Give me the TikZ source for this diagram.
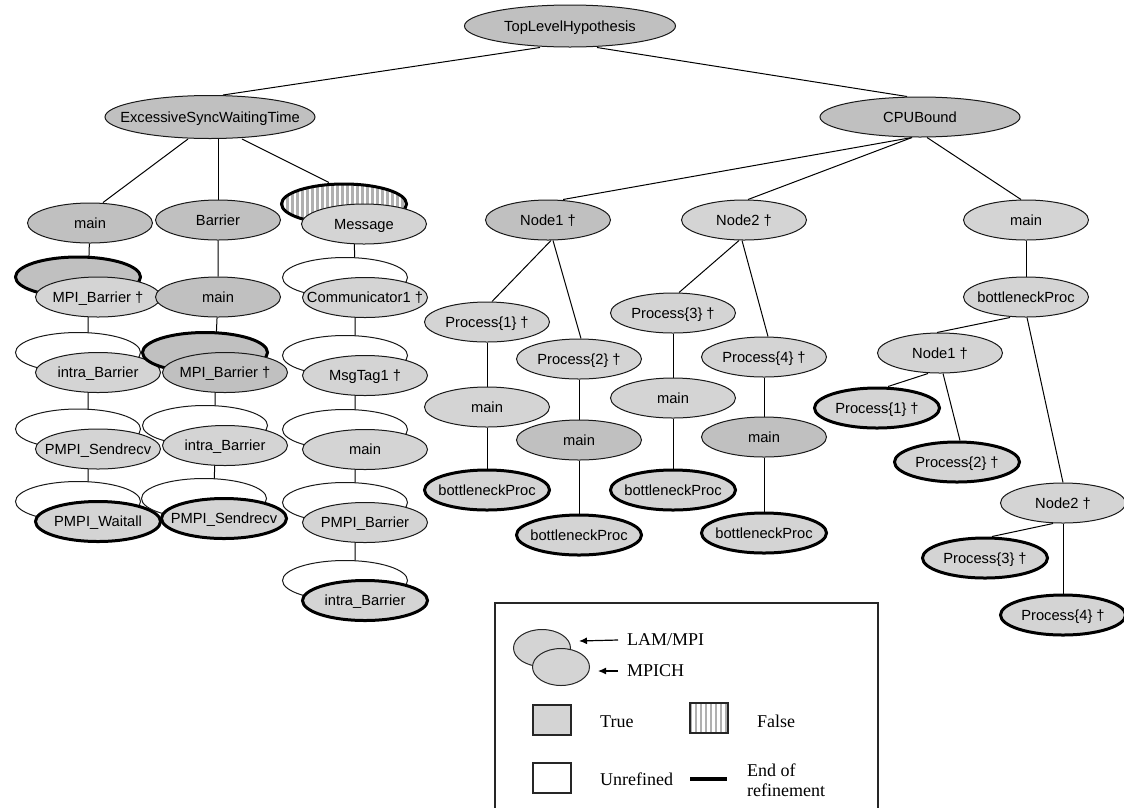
\documentclass[tikz,border=0pt]{standalone}
\usepackage{fontspec}
\setmainfont{Liberation Serif}
\newfontfamily\treefont{Liberation Sans}
\usetikzlibrary{shapes.geometric,backgrounds,arrows.meta}

\definecolor{truedark}{HTML}{C0C0C0}
\definecolor{truelight}{HTML}{D4D4D4}
\definecolor{stripe}{HTML}{B0B0B0}

% label inside a fixed-size ellipse, so the text never widens the shape
\newcommand\hyptext[1]{\makebox[0pt]{#1}}

\tikzset{
  hyp/.style={ellipse, draw=black!90, line width=1pt, minimum width=125pt,
    minimum height=40pt, inner sep=0pt, text height=10.5pt, text depth=0pt,
    font=\treefont\fontsize{14.7}{17}\selectfont},
  dark/.style={hyp, fill=truedark},
  light/.style={hyp, fill=truelight},
  unref/.style={hyp, fill=white},
  endref/.style={line width=3pt, draw=black},
  stripes/.style={path picture={
      \foreach \k in {1,6,...,136}
        \draw[stripe, line width=2.4pt]
          ([xshift=\k pt]path picture bounding box.south west) --
          ([xshift=\k pt]path picture bounding box.north west);}},
  falsehyp/.style={hyp, fill=white, stripes},
  edge/.style={draw=black, line width=1pt},
  legtext/.style={inner sep=0pt, font=\fontsize{18}{20}\selectfont},
  legbox/.style={rectangle, draw=black!85, line width=1.2pt, minimum width=38pt,
    minimum height=30pt, inner sep=0pt},
  legell/.style={ellipse, draw=black!85, line width=1pt, fill=truelight,
    minimum width=57pt, minimum height=37pt, inner sep=0pt},
  legarrow/.style={draw=black, line width=1.2pt, -{Latex[length=8pt,width=7pt]}},
}

\begin{document}
\begin{tikzpicture}[x=1pt, y=-1pt]
\useasboundingbox (0,0) rectangle (1124,807);

% ---------------- top levels ----------------
\node[dark, minimum width=211pt, minimum height=42pt] (tlh) at (570,26) {\hyptext{TopLevelHypothesis}};
\node[dark, minimum width=210pt, minimum height=43pt] (eswt) at (210,117) {\hyptext{ExcessiveSyncWaitingTime}};
\node[dark, minimum width=200pt] (cpu) at (920,117) {\hyptext{CPUBound}};

% ---------------- ExcessiveSyncWaitingTime subtree ----------------
% column 1
\node[dark] (m1) at (90,223) {\hyptext{main}};
\coordinate (g1a) at (88,287);
\node[dark, endref] (g1al) at ([shift={(-10,-10)}]g1a) {};
\node[light] (g1am) at ([shift={(10,10)}]g1a) {\hyptext{MPI\_Barrier †}};
\coordinate (g1b) at (88,362.5);
\node[unref] (g1bl) at ([shift={(-10,-10)}]g1b) {};
\node[light] (g1bm) at ([shift={(10,10)}]g1b) {\hyptext{intra\_Barrier}};
\coordinate (g1c) at (88,439);
\node[unref] (g1cl) at ([shift={(-10,-10)}]g1c) {};
\node[light] (g1cm) at ([shift={(10,10)}]g1c) {\hyptext{PMPI\_Sendrecv}};
\coordinate (g1d) at (88,511.5);
\node[unref] (g1dl) at ([shift={(-10,-10)}]g1d) {};
\node[light, endref] (g1dm) at ([shift={(10,10)}]g1d) {\hyptext{PMPI\_Waitall}};

% column 2
\node[dark] (bar) at (218,220) {\hyptext{Barrier}};
\node[dark] (m2) at (218,297) {\hyptext{main}};
\coordinate (g2a) at (215,362.5);
\node[dark, endref] (g2al) at ([shift={(-10,-10)}]g2a) {};
\node[dark] (g2am) at ([shift={(10,10)}]g2a) {\hyptext{MPI\_Barrier †}};
\coordinate (g2b) at (215,435.5);
\node[unref] (g2bl) at ([shift={(-10,-10)}]g2b) {};
\node[light] (g2bm) at ([shift={(10,10)}]g2b) {\hyptext{intra\_Barrier}};
\coordinate (g2c) at (214,508.5);
\node[unref] (g2cl) at ([shift={(-10,-10)}]g2c) {};
\node[light, endref] (g2cm) at ([shift={(10,10)}]g2c) {\hyptext{PMPI\_Sendrecv}};

% column 3
\coordinate (g3a) at (354,214);
\node[falsehyp, endref] (g3al) at ([shift={(-10,-10)}]g3a) {};
\node[light] (g3am) at ([shift={(10,10)}]g3a) {\hyptext{Message}};
\coordinate (g3b) at (355,287.5);
\node[unref] (g3bl) at ([shift={(-10,-10)}]g3b) {};
\node[light] (g3bm) at ([shift={(10,10)}]g3b) {\hyptext{Communicator1 †}};
\coordinate (g3c) at (355,365.5);
\node[unref] (g3cl) at ([shift={(-10,-10)}]g3c) {};
\node[light] (g3cm) at ([shift={(10,10)}]g3c) {\hyptext{MsgTag1 †}};
\coordinate (g3d) at (355,439.5);
\node[unref] (g3dl) at ([shift={(-10,-10)}]g3d) {};
\node[light] (g3dm) at ([shift={(10,10)}]g3d) {\hyptext{main}};
\coordinate (g3e) at (355,512.5);
\node[unref] (g3el) at ([shift={(-10,-10)}]g3e) {};
\node[light] (g3em) at ([shift={(10,10)}]g3e) {\hyptext{PMPI\_Barrier}};
\coordinate (g3f) at (355,590.5);
\node[unref] (g3fl) at ([shift={(-10,-10)}]g3f) {};
\node[light, endref] (g3fm) at ([shift={(10,10)}]g3f) {\hyptext{intra\_Barrier}};

% ---------------- CPUBound subtree ----------------
\node[dark]  (n1) at (548,220) {\hyptext{Node1 †}};
\node[light] (n2) at (744,220) {\hyptext{Node2 †}};
\node[light] (rm) at (1026,220) {\hyptext{main}};

\node[light] (p1) at (487,322) {\hyptext{Process\{1\} †}};
\node[light] (p2) at (579,359) {\hyptext{Process\{2\} †}};
\node[light] (p3) at (673,313) {\hyptext{Process\{3\} †}};
\node[light] (p4) at (764,357) {\hyptext{Process\{4\} †}};

\node[light] (ma) at (487,407) {\hyptext{main}};
\node[dark]  (mb) at (579,440) {\hyptext{main}};
\node[light] (mc) at (673,398) {\hyptext{main}};
\node[dark]  (md) at (764,437) {\hyptext{main}};

\node[light, endref] (ba) at (487,490) {\hyptext{bottleneckProc}};
\node[light, endref] (bb) at (579,535) {\hyptext{bottleneckProc}};
\node[light, endref] (bc) at (673,490) {\hyptext{bottleneckProc}};
\node[light, endref] (bd) at (764,533) {\hyptext{bottleneckProc}};

\node[light] (rbn) at (1026,297) {\hyptext{bottleneckProc}};
\node[light] (rn1) at (940,353) {\hyptext{Node1 †}};
\node[light, endref] (rp1) at (877,408) {\hyptext{Process\{1\} †}};
\node[light, endref] (rp2) at (957,462) {\hyptext{Process\{2\} †}};
\node[light] (rn2) at (1063,503) {\hyptext{Node2 †}};
\node[light, endref] (rp3) at (985,558) {\hyptext{Process\{3\} †}};
\node[light, endref] (rp4) at (1063,615) {\hyptext{Process\{4\} †}};

% ---------------- tree edges ----------------
\begin{pgfonlayer}{background}
  \draw[edge] ([xshift=-30pt]tlh.south) -- ([xshift=13pt]eswt.north);
  \draw[edge] ([xshift=27pt]tlh.south) -- ([xshift=-13pt]cpu.north);

  \draw[edge] ([xshift=-22pt]eswt.south) -- ([xshift=13pt]m1.north);
  \draw[edge] ([xshift=8pt]eswt.south) -- (bar.north);
  \draw[edge] ([xshift=32pt]eswt.south) -- ([xshift=-15pt]g3al.north);

  \draw[edge] (m1) -- (g1a) -- (g1b) -- (g1c) -- (g1d);
  \draw[edge] (bar) -- (m2) -- (g2a) -- (g2b) -- (g2c);
  \draw[edge] (g3a) -- (g3b) -- (g3c) -- (g3d) -- (g3e) -- (g3f);

  \draw[edge] ([xshift=-8pt]cpu.south) -- ([xshift=15pt]n1.north);
  \draw[edge] ([xshift=-8pt]cpu.south) -- ([xshift=4pt]n2.north);
  \draw[edge] ([xshift=7pt]cpu.south) -- ([xshift=-5pt]rm.north);

  \draw[edge] ([xshift=3pt]n1.south) -- ([xshift=5pt]p1.north);
  \draw[edge] ([xshift=5pt]n1.south) -- ([xshift=2pt]p2.north);
  \draw[edge] ([xshift=-5pt]n2.south) -- ([xshift=6pt]p3.north);
  \draw[edge] ([xshift=-2pt]n2.south) -- ([xshift=4pt]p4.north);

  \draw[edge] (p1) -- (ma) -- (ba);
  \draw[edge] (p2) -- (mb) -- (bb);
  \draw[edge] (p3) -- (mc) -- (bc);
  \draw[edge] (p4) -- (md) -- (bd);

  \draw[edge] (rm) -- (rbn);
  \draw[edge] ([xshift=-16pt]rbn.south) -- ([xshift=-3pt]rn1.north);
  \draw[edge] ([xshift=1pt]rbn.south) -- (rn2.north);
  \draw[edge] ([xshift=-12pt]rn1.south) -- ([xshift=11pt]rp1.north);
  \draw[edge] ([xshift=3pt]rn1.south) -- ([xshift=3pt]rp2.north);
  \draw[edge] ([xshift=-10pt]rn2.south) -- ([xshift=7pt]rp3.north);
  \draw[edge] (rn2) -- (rp4);
\end{pgfonlayer}

% ---------------- legend ----------------
\draw[draw=black!85, line width=1.2pt] (495,808) -- (495,603) -- (878,603) -- (878,808);

\node[legell] (lamell) at (542,648) {};
\node[legell] (mpichell) at (561,667) {};
\node[legtext, anchor=west] (lamtxt) at (627,640) {LAM/MPI};
\node[legtext, anchor=west] (mpichtxt) at (627,671) {MPICH};
\coordinate (lamtip) at (579,641);
\coordinate (mpichtip) at (598,671);
\draw[legarrow] ([xshift=-9pt]lamtxt.west) -- (lamtip);
\draw[legarrow] ([xshift=-9pt]mpichtxt.west) -- (mpichtip);

\node[legbox, fill=truelight] (truebox) at (552,720) {};
\node[legtext, anchor=west] (truetxt) at (600,722) {True};
\node[legbox, fill=white, stripes] (falsebox) at (709,718) {};
\node[legtext, anchor=west] (falsetxt) at (757,721) {False};
\node[legbox, fill=white] (unrefbox) at (552,778) {};
\node[legtext, anchor=west] (unreftxt) at (600,779) {Unrefined};
\draw[line width=4pt] (690,779) -- (727,779);
\node[legtext, anchor=west, align=left] (endtxt) at (747,780) {End of\\refinement};
\end{tikzpicture}
\end{document}
